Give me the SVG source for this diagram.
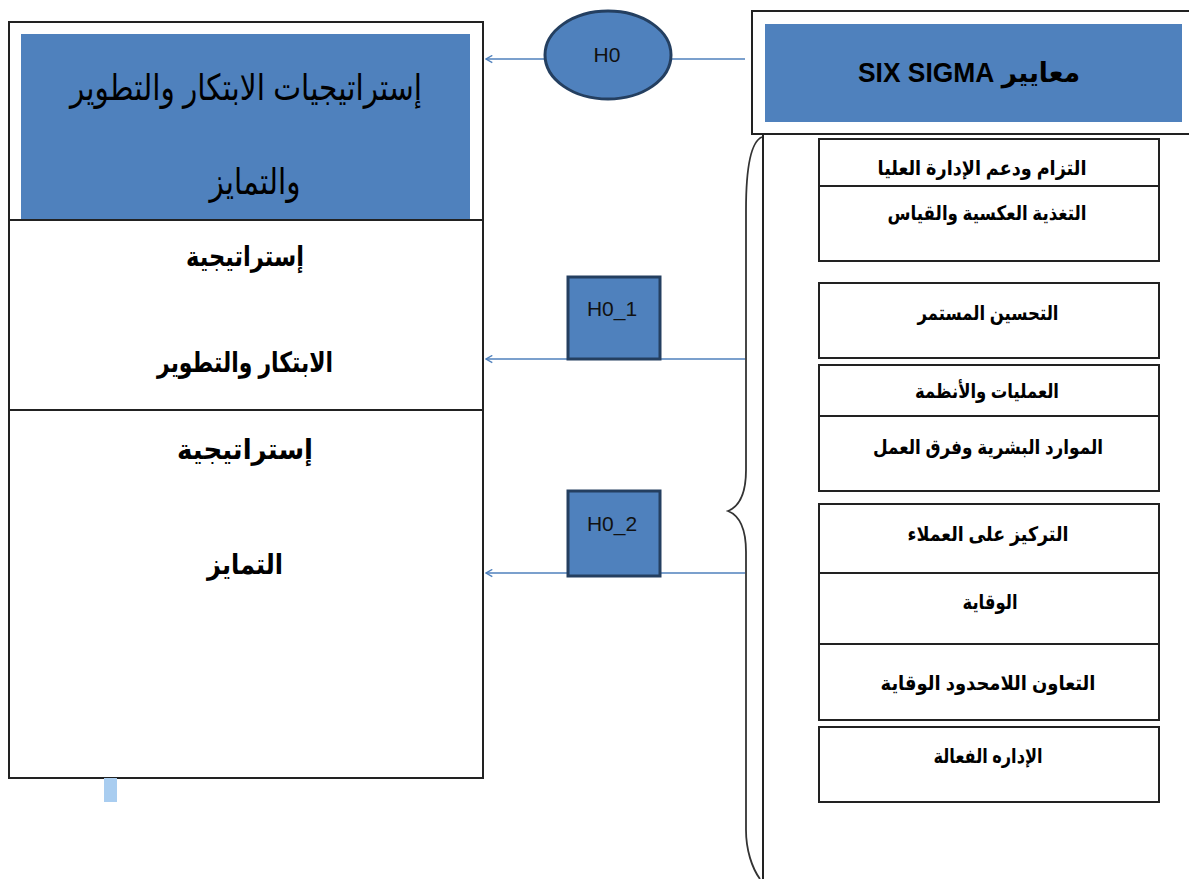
<svg xmlns="http://www.w3.org/2000/svg" width="1189" height="879" viewBox="0 0 1189 879">
<defs>
<style>
.box{fill:#fff;stroke:#222;stroke-width:2}
.blue{fill:#4f81bd}
.hb{fill:#4f81bd;stroke:#243f60;stroke-width:3}
.ar{font-family:"Liberation Sans","DejaVu Sans",sans-serif;fill:#000;text-anchor:middle;direction:rtl}
.big{font-size:36px}
.mid{font-size:28px;font-weight:bold}
.sm{font-size:20px;font-weight:bold}
.lat{font-family:"Liberation Sans Narrow","Liberation Sans",sans-serif;fill:#111;text-anchor:middle}
.conn{stroke:#4f81bd;stroke-width:1.5;fill:none}
</style>
<marker id="arr" viewBox="0 0 10 10" refX="9" refY="5" markerWidth="9" markerHeight="9" orient="auto" markerUnits="userSpaceOnUse">
<path d="M2,1 L9,5 L2,9" fill="none" stroke="#4f81bd" stroke-width="1.5"/>
</marker>
</defs>
<rect width="1189" height="879" fill="#fff"/>

<g id="left-main">
<rect class="box" x="9" y="22" width="474" height="756"/>
<rect class="blue" x="21" y="34" width="449" height="186"/>
<text class="ar big" x="246" y="100" textLength="352" lengthAdjust="spacingAndGlyphs">إستراتيجيات الابتكار والتطوير</text>
<text class="ar big" x="255" y="194" textLength="91" lengthAdjust="spacingAndGlyphs">والتمايز</text>
<line x1="9" y1="220" x2="483" y2="220" stroke="#222" stroke-width="2"/>
<line x1="9" y1="410" x2="483" y2="410" stroke="#222" stroke-width="2"/>
</g>
<g id="left-s1">
<text class="ar mid" x="245" y="266" textLength="118" lengthAdjust="spacingAndGlyphs">إستراتيجية</text>
<text class="ar mid" x="245" y="372" textLength="176" lengthAdjust="spacingAndGlyphs">الابتكار والتطوير</text>
</g>
<g id="left-s2">
<text class="ar mid" x="245" y="459" font-size="30" textLength="136" lengthAdjust="spacingAndGlyphs">إستراتيجية</text>
<text class="ar mid" x="245" y="574" font-size="32" textLength="76" lengthAdjust="spacingAndGlyphs">التمايز</text>
</g>
<rect x="104" y="778" width="13" height="24" fill="#a9cdf0"/>

<g id="connectors">
<line class="conn" x1="745" y1="59" x2="486" y2="59" marker-end="url(#arr)"/>
<line class="conn" x1="745" y1="359" x2="486" y2="359" marker-end="url(#arr)"/>
<line class="conn" x1="745" y1="573" x2="486" y2="573" marker-end="url(#arr)"/>
<line x1="763" y1="134" x2="763" y2="879" stroke="#222" stroke-width="2"/>
<path d="M762,137 C750,142 746,170 746,210 L746,470 C746,495 738,507 728,511 C738,515 746,527 746,552 L746,830 C746,850 752,868 760,879" fill="none" stroke="#333" stroke-width="1.8"/>
</g>

<g id="h0">
<ellipse class="hb" cx="608" cy="55" rx="63" ry="44"/>
<text class="lat" x="607" y="62" font-size="21">H0</text>
</g>
<g id="h0_1">
<rect class="hb" x="568" y="277" width="92" height="82"/>
<text class="lat" x="612" y="316" font-size="21">H0_1</text>
</g>
<g id="h0_2">
<rect class="hb" x="568" y="491" width="92" height="85"/>
<text class="lat" x="612" y="531" font-size="21">H0_2</text>
</g>

<g id="six-sigma">
<rect class="box" x="752" y="11" width="445" height="123"/>
<rect class="blue" x="765" y="24" width="417" height="98"/>
<text class="ar" x="969" y="82" font-size="27" font-weight="bold" textLength="222" lengthAdjust="spacingAndGlyphs">معايير  SIX SIGMA</text>
</g>

<g id="criteria">
<rect class="box" x="819" y="139" width="340" height="47"/>
<text class="ar sm" x="982" y="175" textLength="209" lengthAdjust="spacingAndGlyphs">التزام ودعم الإدارة العليا</text>
<rect class="box" x="819" y="186" width="340" height="75"/>
<text class="ar sm" x="987" y="220" textLength="199" lengthAdjust="spacingAndGlyphs">التغذية العكسية والقياس</text>
<rect class="box" x="819" y="283" width="340" height="75"/>
<text class="ar sm" x="988" y="320" textLength="141" lengthAdjust="spacingAndGlyphs">التحسين المستمر</text>
<rect class="box" x="819" y="365" width="340" height="51"/>
<text class="ar sm" x="987" y="398" textLength="144" lengthAdjust="spacingAndGlyphs">العمليات والأنظمة</text>
<rect class="box" x="819" y="416" width="340" height="75"/>
<text class="ar sm" x="988" y="454" textLength="230" lengthAdjust="spacingAndGlyphs">الموارد البشرية وفرق العمل</text>
<rect class="box" x="819" y="504" width="340" height="69"/>
<text class="ar sm" x="988" y="541" textLength="161" lengthAdjust="spacingAndGlyphs">التركيز على العملاء</text>
<rect class="box" x="819" y="573" width="340" height="71"/>
<text class="ar sm" x="990" y="609" textLength="55" lengthAdjust="spacingAndGlyphs">الوقاية</text>
<rect class="box" x="819" y="644" width="340" height="76"/>
<text class="ar sm" x="988" y="690" textLength="215" lengthAdjust="spacingAndGlyphs">التعاون اللامحدود الوقاية</text>
<rect class="box" x="819" y="727" width="340" height="75"/>
<text class="ar sm" x="988" y="763" textLength="109" lengthAdjust="spacingAndGlyphs">الإداره الفعالة</text>
</g>
</svg>
